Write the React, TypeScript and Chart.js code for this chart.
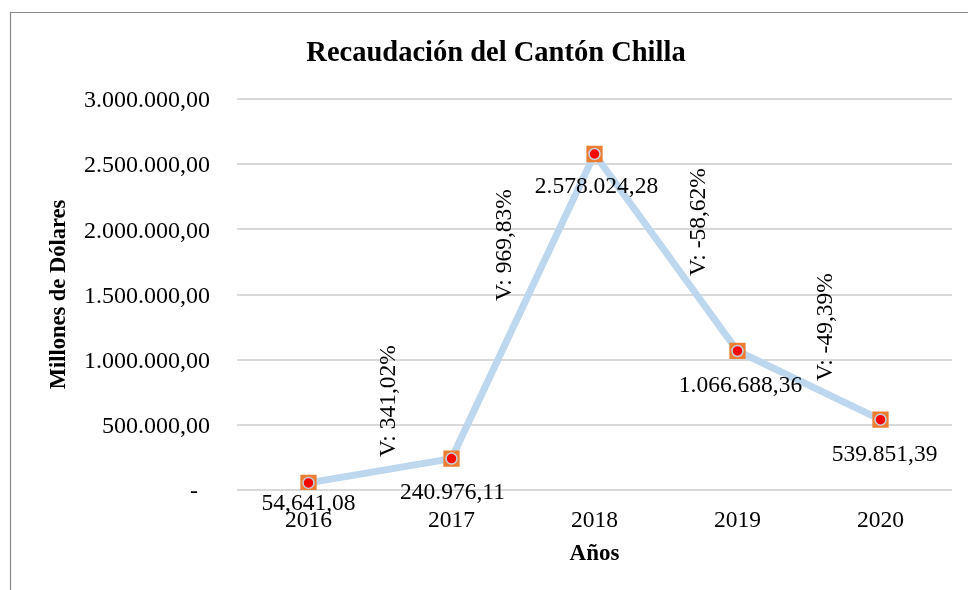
import { useEffect, useRef } from "react";
import { Chart, registerables } from "chart.js";

Chart.register(...registerables);

const years = ["2016", "2017", "2018", "2019", "2020"];
const recaudacion = [54641.08, 240976.11, 2578024.28, 1066688.36, 539851.39];
const valueLabels = ["54,641,08", "240.976,11", "2.578.024,28", "1.066.688,36", "539.851,39"];
const variationLabels = ["V: 341,02%", "V: 969,83%", "V: -58,62%", "V: -49,39%"];
const yMin = 0;
const yMax = 3000000;
const yStep = 500000;

const SERIF = "'Liberation Serif', 'Times New Roman', serif";

function formatTick(v: number): string {
  if (v === 0) return "-  ";
  const [i, d] = v.toFixed(2).split(".");
  return i.replace(/\B(?=(\d{3})+(?!\d))/g, ".") + "," + d;
}

const labelPlugin = {
  id: "valueLabels",
  afterDatasetsDraw(chart: any, _args: any, opts: any) {
    const ctx = chart.ctx;
    const meta = chart.getDatasetMeta(0);
    ctx.save();
    ctx.font = `${opts.fontSize}px ${SERIF}`;
    ctx.fillStyle = "#000";
    ctx.textAlign = "center";
    ctx.textBaseline = "middle";
    meta.data.forEach((pt: any, i: number) => {
      const off = opts.offsets[i] || [0, 30];
      ctx.fillText(valueLabels[i], pt.x + off[0], pt.y + off[1]);
    });
    const xs = chart.scales.x;
    const ys = chart.scales.y;
    opts.anchors.forEach((a: number[], i: number) => {
      const pos = a[0];
      const i0 = Math.floor(pos);
      const x0 = xs.getPixelForValue(i0);
      const x1 = xs.getPixelForValue(i0 + 1);
      const x = x0 + (pos - i0) * (x1 - x0);
      const y = ys.getPixelForValue(a[1]);
      ctx.save();
      ctx.translate(x, y);
      ctx.rotate(-Math.PI / 2);
      ctx.fillText(variationLabels[i], 0, 0);
      ctx.restore();
    });
    ctx.restore();
  },
};

const framePlugin = {
  id: "frame",
  afterDraw(chart: any) {
    const ctx = chart.ctx;
    ctx.save();
    ctx.strokeStyle = "#8a8a8a";
    ctx.lineWidth = 1.2;
    ctx.beginPath();
    ctx.moveTo(10.5, chart.height);
    ctx.lineTo(10.5, 12.5);
    ctx.lineTo(chart.width, 12.5);
    ctx.stroke();
    ctx.restore();
  },
};

export default function App() {
  const ref = useRef<HTMLCanvasElement | null>(null);

  useEffect(() => {
    if (!ref.current) return;
    const chart = new Chart(ref.current, {
      type: "line",
      data: {
        labels: years,
        datasets: [
          {
            label: "marker",
            data: recaudacion,
            showLine: false,
            pointStyle: "circle",
            pointRadius: 5.5,
            pointBackgroundColor: "#FF0000",
            pointBorderColor: "#C6D0DD",
            pointBorderWidth: 1.5,
            order: 0,
          },
          {
            label: "Recaudación",
            data: recaudacion,
            borderColor: "#BDD7EE",
            borderWidth: 7,
            tension: 0,
            pointStyle: "rect",
            pointRadius: 11.5,
            pointBackgroundColor: "#ED7D31",
            pointBorderColor: "#ED7D31",
            pointBorderWidth: 0,
            order: 1,
          },
        ],
      },
      options: {
        animation: false,
        responsive: true,
        maintainAspectRatio: false,
        layout: { padding: { left: 40, right: 16, top: 0, bottom: 0 } },
        plugins: {
          legend: { display: false },
          tooltip: { enabled: false },
          title: {
            display: true,
            text: "Recaudación del Cantón Chilla",
            color: "#000",
            font: { family: SERIF, size: 28.5, weight: "bold", lineHeight: 1.2 },
            padding: { top: 36.9, bottom: 27.9 },
          },
          valueLabels: {
            fontSize: 23.5,
            offsets: [
              [0, 21],
              [1, 34],
              [2, 33],
              [3, 35],
              [4, 35],
            ],
            anchors: [
              [0.563, 682800],
              [1.374, 1880000],
              [2.731, 2056000],
              [3.619, 1250000],
            ],
          },
        } as any,
        scales: {
          x: {
            offset: true,
            grid: { display: false },
            border: { display: false },
            ticks: {
              color: "#000",
              font: { family: SERIF, size: 23.5 },
              padding: 9,
              maxRotation: 0,
            },
            title: {
              display: true,
              text: "Años",
              color: "#000",
              font: { family: SERIF, size: 23, weight: "bold", lineHeight: 1.2 },
              padding: { top: 0, bottom: 22 },
            },
            afterFit: (s: any) => {
              s.height = 100;
            },
          },
          y: {
            min: yMin,
            max: yMax,
            grid: { color: "#D9D9D9", lineWidth: 2, drawTicks: false },
            border: { display: false },
            ticks: {
              stepSize: yStep,
              color: "#000",
              font: { family: SERIF, size: 24 },
              padding: 27,
              labelOffset: 2,
              callback: (v: any) => formatTick(Number(v)),
            },
            title: {
              display: true,
              text: "Millones de Dólares",
              color: "#000",
              font: { family: SERIF, size: 22.5, weight: "bold", lineHeight: 1.2 },
              padding: { top: 5.5, bottom: 0 },
            },
            afterFit: (s: any) => {
              s.width = 197;
            },
          },
        },
      },
      plugins: [labelPlugin, framePlugin],
    });
    return () => chart.destroy();
  }, []);

  return (
    <div style={{ position: "fixed", left: 0, top: 0, width: 968, height: 590, background: "#fff" }}>
      <canvas ref={ref} />
    </div>
  );
}
